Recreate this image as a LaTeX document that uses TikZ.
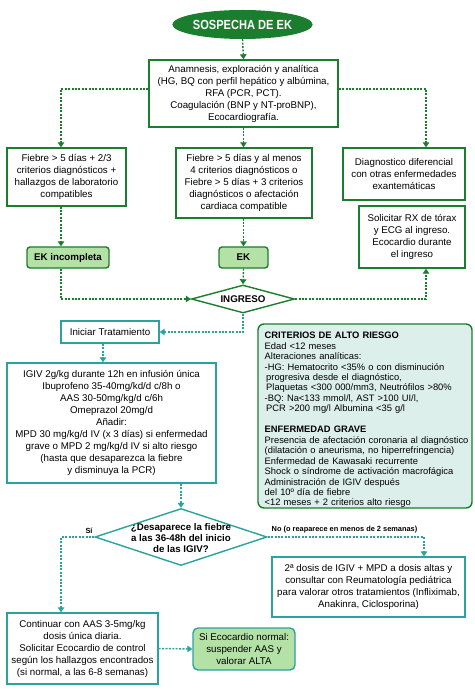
\documentclass[tikz,border=0pt]{standalone}
\usepackage{fontspec}
\setmainfont{Liberation Sans}
\newfontfamily\titlefont[FakeStretch=0.84]{Liberation Sans}
\usetikzlibrary{arrows.meta,shapes.geometric}
\definecolor{dkgreen}{HTML}{1B7D2E}
\definecolor{ltgreen}{HTML}{B4E2A6}
\definecolor{teal2}{HTML}{2AA39C}
\definecolor{critfill}{HTML}{DCEFEA}
\newcommand{\bodyfont}{\fontsize{9.75}{12}\selectfont}
\newcommand{\critfont}{\fontsize{9.35}{10.45}\selectfont}
\tikzset{
  gbox/.style={draw=dkgreen, line width=1.4pt, fill=white, align=center, inner sep=0pt, font=\bodyfont},
  tbox/.style={draw=teal2, line width=1.4pt, fill=white, align=center, inner sep=0pt, font=\bodyfont},
  ekbox/.style={draw=dkgreen, line width=1.4pt, fill=ltgreen, rounded corners=3pt, align=center, inner sep=0pt, font=\bodyfont\bfseries},
  gdiam/.style={diamond, draw=dkgreen, line width=1.4pt, fill=white, inner sep=0pt},
  tdiam/.style={diamond, draw=teal2, line width=1.4pt, fill=white, inner sep=0pt},
  gcon/.style={draw=dkgreen, line width=1.4pt, dash pattern=on 2pt off 1.4pt, -{Triangle[length=5pt,width=6.5pt]}},
  tcon/.style={draw=teal2, line width=1.4pt, dash pattern=on 2pt off 1.4pt, -{Triangle[length=5pt,width=6.5pt]}},
  lbl/.style={font=\fontsize{7.4}{9}\selectfont\bfseries, inner sep=0pt},
}
\begin{document}
\begin{tikzpicture}[x=1pt,y=-1pt]
\useasboundingbox (0,0) rectangle (474,692);
% top
\node[ellipse, fill=dkgreen, minimum width=131pt, minimum height=29pt, inner sep=0pt, text=white, font=\titlefont\fontsize{13.2}{15}\selectfont\bfseries] (sos) at (242.5,24.5) {SOSPECHA DE EK};
\node[gbox, minimum width=189pt, minimum height=67pt] (b1) at (243.5,93.5) {Anamnesis, exploración y analítica\\(HG, BQ con perfil hepático y albúmina,\\RFA (PCR, PCT).\\Coagulación (BNP y NT-proBNP),\\Ecocardiografía.};
\node[gbox, minimum width=119pt, minimum height=58pt] (lb) at (66.5,177) {Fiebre > 5 días + 2/3\\criterios diagnósticos +\\hallazgos de laboratorio\\compatibles};
\node[gbox, minimum width=136pt, minimum height=70pt] (mb) at (244,183) {Fiebre > 5 días y al menos\\4 criterios diagnósticos o\\Fiebre > 5 días + 3 criterios\\diagnósticos o afectación\\cardiaca compatible};
\node[gbox, minimum width=122pt, minimum height=52pt] (rb) at (404,174) {Diagnostico diferencial\\con otras enfermedades\\exantemáticas};
\node[gbox, minimum width=106pt, minimum height=62pt] (rb2) at (412,237) {Solicitar RX de tórax\\y ECG al ingreso.\\Ecocardio durante\\el ingreso};
\node[ekbox, minimum width=82pt, minimum height=21pt] (eki) at (68,257.5) {EK incompleta};
\node[ekbox, minimum width=49pt, minimum height=21pt] (ek) at (243.5,257.5) {EK};
\node[gdiam, minimum width=103pt, minimum height=28pt] (ing) at (243,299) {};
\node[font=\bodyfont\bfseries, inner sep=0pt] (ingt) at (ing.center) {INGRESO};
\coordinate (lx) at (61,0);
\coordinate (rx) at (426,0);
\draw[gcon] (sos.south) -- (b1.north);
\draw[gcon] ([yshift=4.5pt]b1.west) -| (lx |- lb.north);
\draw[gcon] ([yshift=4.5pt]b1.east) -| (rx |- rb.north);
\draw[gcon] (b1.south) -- (b1.south |- mb.north);
\draw[gcon] (lx |- lb.south) -- (lx |- eki.north);
\draw[gcon] (mb.south -| ek.north) -- (ek.north);
\draw[gcon] (ek.south) -- (ing.north);
\draw[gcon] (lx |- eki.south) |- (ing.west);
\draw[gcon] (ing.east) -| (rx |- rb2.south);
% middle
\node[tbox, minimum width=98pt, minimum height=22pt] (ini) at (110,332) {Iniciar Tratamiento};
\draw[tcon] (ing.south) |- (ini.east);
\node[tbox, minimum width=209pt, minimum height=120pt] (igiv) at (111.5,423) {IGIV 2g/kg durante 12h en infusión única\\Ibuprofeno 35-40mg/kd/d c/8h o\\AAS 30-50mg/kg/d c/6h\\Omeprazol 20mg/d\\Añadir:\\MPD 30 mg/kg/d IV (x 3 días) si enfermedad\\grave o MPD 2 mg/kg/d IV si alto riesgo\\(hasta que desaparezca la fiebre\\y disminuya la PCR)};
\coordinate (ix) at (103,0);
\draw[tcon] (ix |- ini.south) -- (ix |- igiv.north);
\node[draw=dkgreen, line width=1.4pt, fill=critfill, rounded corners=6pt, minimum width=214pt, minimum height=184pt, inner sep=0pt] (crit) at (365,416) {};
\node[anchor=north west, align=left, inner sep=0pt, font=\critfont, text width=206pt] (critt) at (264.5,332) {\textbf{CRITERIOS DE ALTO RIESGO}\\Edad <12 meses\\Alteraciones analíticas:\\-HG: Hematocrito <35\% o con disminución\\\hspace*{1.5pt}progresiva desde el diagnóstico,\\\hspace*{1.5pt}Plaquetas <300 000/mm3, Neutrófilos >80\%\\-BQ: Na<133 mmol/l, AST >100 UI/l,\\\hspace*{1.5pt}PCR >200 mg/l Albumina <35 g/l\\[10.45pt]\textbf{ENFERMEDAD GRAVE}\\Presencia de afectación coronaria al diagnóstico\\(dilatación o aneurisma, no hiperrefringencia)\\Enfermedad de Kawasaki recurrente\\Shock o síndrome de activación macrofágica\\Administración de IGIV después\\del 10º día de fiebre\\<12 meses + 2 criterios alto riesgo};
% decision
\node[tdiam, minimum width=172pt, minimum height=57pt] (d2) at (181,537) {};
\node[font=\fontsize{9.7}{10.8}\selectfont\bfseries, align=center, inner sep=0pt] (d2t) at (181,538) {¿Desaparece la fiebre\\a las 36-48h del inicio\\de las IGIV?};
\draw[tcon] (d2.north |- igiv.south) -- (d2.north);
\node[lbl] (si) at (89,531) {Sí};
\node[lbl, anchor=west] (no) at (271.5,529.5) {No (o reaparece en menos de 2 semanas)};
\node[tbox, minimum width=193pt, minimum height=60pt] (dos) at (368.5,587) {2ª dosis de IGIV + MPD a dosis altas y\\consultar con Reumatología pediátrica\\para valorar otros tratamientos (Infliximab,\\Anakinra, Ciclosporina)};
\node[tbox, minimum width=151pt, minimum height=71pt] (cont) at (82.5,648.5) {Continuar con AAS 3-5mg/kg\\dosis única diaria.\\Solicitar Ecocardio de control\\según los hallazgos encontrados\\(si normal, a las 6-8 semanas)};
\node[draw=teal2, line width=1.4pt, fill=ltgreen, rounded corners=5pt, minimum width=102pt, minimum height=42pt, inner sep=0pt, align=center, font=\bodyfont] (ok) at (244,649) {Si Ecocardio normal:\\suspender AAS y\\valorar ALTA};
\coordinate (dx) at (424,0);
\draw[tcon] (d2.west) -| (lx |- cont.north);
\draw[tcon] (d2.east) -| (dx |- dos.north);
\draw[tcon] (cont.east) -- (ok.west);
\end{tikzpicture}
\end{document}
